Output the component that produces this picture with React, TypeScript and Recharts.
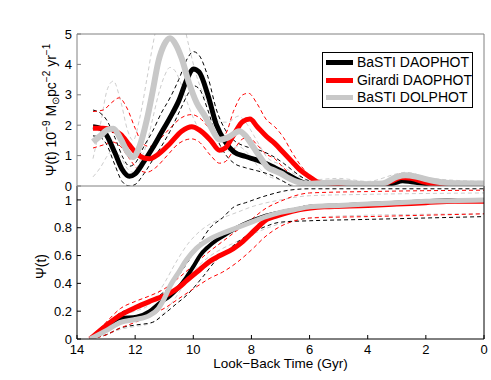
import React from 'react';
import { LineChart, Line, XAxis, YAxis, Legend } from 'recharts';

const timeTicks = [14, 12, 10, 8, 6, 4, 2, 0];
const sfrTicks = [0, 1, 2, 3, 4, 5];
const cumTicks = [0, 0.2, 0.4, 0.6, 0.8, 1];
const seriesNames = ['BaSTI DAOPHOT', 'Girardi DAOPHOT', 'BaSTI DOLPHOT'];

// star formation rate, [look-back time (Gyr), psi]
const blackSfr = [[13.45, 1.95], [13.2, 1.9], [13.0, 1.7], [12.7, 1.1], [12.45, 0.55], [12.2, 0.32], [12.0, 0.4], [11.7, 0.8], [11.4, 1.25], [11.1, 1.75], [10.8, 2.25], [10.5, 2.8], [10.2, 3.55], [10.0, 3.85], [9.8, 3.75], [9.5, 3.0], [9.2, 2.0], [8.9, 1.45], [8.6, 1.12], [8.2, 0.97], [7.8, 0.85], [7.3, 0.65], [6.9, 0.45], [6.5, 0.24], [6.2, 0.1], [5.8, 0.04], [5.0, 0.05], [4.5, 0.05], [4.0, 0.03], [3.5, 0.03], [3.1, 0.1], [2.8, 0.17], [2.5, 0.14], [2.0, 0.08], [1.5, 0.06], [0, 0.05]];
const redSfr = [[13.45, 1.9], [13.1, 1.9], [12.8, 1.85], [12.5, 1.7], [12.2, 1.35], [11.95, 1.07], [11.7, 0.92], [11.5, 0.9], [11.2, 1.05], [10.8, 1.4], [10.4, 1.8], [10.05, 1.95], [9.8, 1.85], [9.4, 1.5], [9.1, 1.18], [8.9, 1.25], [8.6, 1.7], [8.3, 2.12], [8.05, 2.2], [7.8, 1.95], [7.47, 1.62], [7.2, 1.4], [6.9, 1.1], [6.6, 0.8], [6.33, 0.53], [6.0, 0.3], [5.75, 0.14], [5.4, 0.06], [4.5, 0.05], [3.6, 0.05], [3.2, 0.15], [2.85, 0.28], [2.5, 0.25], [2.0, 0.12], [1.7, 0.07], [0, 0.07]];
const graySfr = [[13.45, 1.45], [13.2, 1.65], [12.95, 1.85], [12.75, 1.88], [12.5, 1.55], [12.25, 1.1], [12.07, 0.95], [11.85, 1.3], [11.6, 2.17], [11.4, 3.1], [11.2, 4.1], [11.0, 4.65], [10.8, 4.86], [10.6, 4.65], [10.4, 4.2], [10.15, 3.4], [9.88, 2.73], [9.6, 2.3], [9.4, 1.95], [9.08, 1.52], [8.8, 1.6], [8.42, 1.8], [8.2, 1.65], [7.94, 1.29], [7.7, 0.95], [7.47, 0.64], [7.2, 0.5], [7.0, 0.42], [6.7, 0.25], [6.44, 0.14], [6.0, 0.07], [5.0, 0.12], [4.5, 0.08], [4.0, 0.06], [3.5, 0.08], [3.0, 0.3], [2.7, 0.35], [2.3, 0.3], [1.8, 0.18], [1.2, 0.1], [0, 0.08]];

const blackSfrHi = [[13.45, 2.5], [13.2, 2.4], [13.0, 2.2], [12.7, 1.6], [12.4, 0.9], [12.2, 0.65], [12.0, 0.75], [11.7, 1.3], [11.4, 1.8], [11.1, 2.4], [10.8, 2.9], [10.5, 3.5], [10.2, 4.2], [10.0, 4.42], [9.8, 4.3], [9.5, 3.6], [9.2, 2.5], [8.9, 1.85], [8.6, 1.5], [8.2, 1.3], [7.8, 1.2], [7.3, 1.0], [6.9, 0.75], [6.5, 0.45], [6.1, 0.2], [5.7, 0.1], [4.5, 0.1], [3.5, 0.05], [2.8, 0.3], [2.2, 0.15], [1.5, 0.1], [0, 0.1]];
const blackSfrLo = [[13.45, 1.65], [13.2, 1.6], [13.0, 1.4], [12.7, 0.7], [12.45, 0.15], [12.2, 0.0], [12.0, 0.05], [11.7, 0.4], [11.4, 0.85], [11.1, 1.3], [10.8, 1.8], [10.5, 2.4], [10.2, 3.0], [10.0, 3.3], [9.8, 3.2], [9.5, 2.5], [9.2, 1.6], [8.9, 1.05], [8.6, 0.75], [8.2, 0.6], [7.8, 0.5], [7.3, 0.35], [6.9, 0.15], [6.5, -0.03], [0, -0.05]];
const redSfrHi = [[13.45, 2.45], [13.1, 2.5], [12.8, 2.75], [12.55, 2.9], [12.3, 2.6], [12.0, 1.9], [11.75, 1.4], [11.5, 1.3], [11.2, 1.5], [10.8, 1.9], [10.4, 2.25], [10.05, 2.35], [9.8, 2.25], [9.4, 1.85], [9.1, 1.6], [8.9, 1.7], [8.6, 2.5], [8.3, 3.0], [8.1, 3.05], [7.8, 2.7], [7.5, 2.2], [7.2, 1.95], [6.9, 1.6], [6.6, 1.1], [6.2, 0.55], [5.8, 0.2], [5.4, 0.1], [4.5, 0.08], [3.6, 0.08], [3.2, 0.25], [2.85, 0.4], [2.4, 0.35], [1.9, 0.15], [0, 0.1]];
const redSfrLo = [[13.45, 1.25], [13.1, 1.35], [12.8, 1.45], [12.5, 1.3], [12.2, 0.9], [11.9, 0.55], [11.6, 0.45], [11.3, 0.6], [10.9, 1.0], [10.5, 1.4], [10.05, 1.55], [9.8, 1.45], [9.4, 1.0], [9.1, 0.75], [8.9, 0.8], [8.6, 1.2], [8.3, 1.55], [8.1, 1.6], [7.8, 1.35], [7.5, 1.05], [7.2, 0.9], [6.9, 0.6], [6.6, 0.35], [6.2, 0.1], [5.8, -0.02], [0, -0.03]];
const graySfrHi = [[13.45, 0.9], [13.2, 2.0], [12.95, 3.2], [12.75, 3.45], [12.5, 2.8], [12.25, 1.8], [12.07, 1.5], [11.85, 2.2], [11.6, 3.5], [11.4, 4.6], [11.2, 5.5], [10.8, 6.2], [10.4, 5.6], [10.15, 4.6], [9.88, 3.6], [9.6, 2.9], [9.3, 2.4], [9.08, 2.1], [8.8, 2.1], [8.45, 2.3], [8.2, 2.1], [7.94, 1.7], [7.7, 1.3], [7.47, 0.95], [7.0, 0.7], [6.44, 0.35], [6.0, 0.2], [5.0, 0.25], [4.0, 0.15], [3.0, 0.4], [2.7, 0.45], [1.8, 0.25], [0, 0.15]];
const graySfrLo = [[13.45, 0.3], [13.2, 0.6], [12.95, 1.0], [12.75, 1.2], [12.5, 0.95], [12.25, 0.55], [12.07, 0.45], [11.85, 0.8], [11.6, 1.4], [11.4, 2.2], [11.2, 3.0], [11.0, 3.6], [10.8, 3.9], [10.6, 3.75], [10.4, 3.3], [10.15, 2.6], [9.88, 2.0], [9.6, 1.6], [9.3, 1.3], [9.08, 1.1], [8.8, 1.15], [8.45, 1.3], [8.2, 1.15], [7.94, 0.85], [7.7, 0.55], [7.47, 0.35], [7.0, 0.2], [6.44, 0.0], [0, -0.02]];

// cumulative star formation, [look-back time (Gyr), fraction]
const blackCum = [[13.55, 0], [13.2, 0.05], [12.9, 0.1], [12.5, 0.15], [11.95, 0.16], [11.5, 0.2], [11.15, 0.26], [10.8, 0.31], [10.55, 0.36], [10.25, 0.44], [10.0, 0.52], [9.77, 0.6], [9.5, 0.66], [9.2, 0.71], [8.9, 0.75], [8.5, 0.8], [8.1, 0.84], [7.6, 0.88], [7.0, 0.91], [6.5, 0.93], [6.0, 0.95], [5.0, 0.96], [4.0, 0.97], [3.0, 0.98], [2.0, 0.99], [1.0, 1.0], [0, 1.0]];
const redCum = [[13.55, 0], [13.1, 0.08], [12.52, 0.17], [11.95, 0.23], [11.38, 0.28], [10.8, 0.33], [10.5, 0.37], [10.23, 0.42], [9.77, 0.5], [9.42, 0.56], [9.08, 0.6], [8.62, 0.65], [8.3, 0.7], [8.05, 0.75], [7.75, 0.81], [7.47, 0.86], [7.2, 0.88], [6.9, 0.9], [6.33, 0.93], [5.5, 0.95], [4.0, 0.96], [3.0, 0.97], [2.0, 0.98], [1.0, 0.99], [0, 0.99]];
const grayCum = [[13.55, 0], [13.0, 0.06], [12.5, 0.12], [12.0, 0.14], [11.5, 0.17], [11.2, 0.22], [11.0, 0.29], [10.8, 0.38], [10.5, 0.48], [10.23, 0.57], [9.9, 0.65], [9.42, 0.72], [9.0, 0.76], [8.5, 0.8], [8.0, 0.84], [7.5, 0.88], [7.0, 0.91], [6.5, 0.93], [6.0, 0.95], [5.0, 0.96], [4.0, 0.97], [3.0, 0.98], [2.0, 0.99], [0, 1.0]];

const blackCumHi = [[13.55, 0], [13.0, 0.1], [12.5, 0.19], [12.0, 0.22], [11.5, 0.27], [11.0, 0.34], [10.6, 0.43], [10.2, 0.55], [9.8, 0.68], [9.42, 0.8], [9.0, 0.87], [8.6, 0.95], [8.2, 0.98], [7.5, 1.03], [6.7, 1.07], [6.0, 1.08], [4.0, 1.08], [0, 1.08]];
const blackCumLo = [[13.55, 0], [13.0, 0.03], [12.5, 0.08], [12.0, 0.1], [11.4, 0.12], [11.0, 0.18], [10.6, 0.25], [10.2, 0.32], [9.66, 0.45], [9.2, 0.57], [8.8, 0.64], [8.4, 0.71], [8.0, 0.76], [7.5, 0.81], [7.0, 0.84], [6.0, 0.85], [4.0, 0.86], [2.0, 0.87], [0, 0.88]];
const redCumHi = [[13.55, 0], [13.0, 0.12], [12.5, 0.22], [12.0, 0.27], [11.5, 0.31], [11.0, 0.36], [10.5, 0.44], [10.0, 0.53], [9.5, 0.62], [9.0, 0.7], [8.5, 0.78], [8.0, 0.86], [7.5, 0.94], [7.0, 0.99], [6.5, 1.03], [6.0, 1.05], [4.0, 1.06], [0, 1.07]];
const redCumLo = [[13.55, 0], [13.0, 0.03], [12.5, 0.08], [12.0, 0.12], [11.5, 0.17], [11.0, 0.22], [10.5, 0.29], [10.0, 0.36], [9.4, 0.44], [9.0, 0.48], [8.5, 0.55], [8.0, 0.64], [7.5, 0.74], [7.0, 0.81], [6.5, 0.85], [6.0, 0.87], [4.0, 0.88], [2.0, 0.89], [0, 0.9]];
const grayCumHi = [[13.55, 0], [13.0, 0.09], [12.5, 0.17], [12.0, 0.2], [11.5, 0.25], [11.0, 0.4], [10.6, 0.55], [10.2, 0.68], [9.8, 0.77], [9.4, 0.83], [9.0, 0.87], [8.5, 0.91], [8.0, 0.95], [7.0, 1.0], [6.0, 1.03], [4.0, 1.04], [0, 1.05]];
const grayCumLo = [[13.55, 0], [13.0, 0.03], [12.5, 0.07], [12.0, 0.09], [11.5, 0.11], [11.0, 0.19], [10.6, 0.3], [10.2, 0.43], [9.8, 0.53], [9.4, 0.6], [9.0, 0.65], [8.5, 0.7], [8.0, 0.75], [7.0, 0.83], [6.0, 0.87], [4.0, 0.89], [0, 0.9]];

const FONT = '"Liberation Sans", Arial, Helvetica, sans-serif';
const BLACK = '#000000';
const RED = '#ff0000';
const GRAY = '#c8c8c8';
const GRAY_DASH = '#cdcdcd';
const TOP_AXIS = '#808080';

const pts = (arr: number[][]) => arr.map(([t, v]) => ({ t, v }));

const thick = (data: number[][], color: string, width: number, key: string) => (
  <Line key={key} data={pts(data)} dataKey="v" xAxisId="b" yAxisId="l" type="monotone" stroke={color}
    strokeWidth={width} dot={false} activeDot={false} legendType="none" isAnimationActive={false} />
);
const dashed = (data: number[][], color: string, key: string) => (
  <Line key={key} data={pts(data)} dataKey="v" xAxisId="b" yAxisId="l" type="monotone" stroke={color}
    strokeWidth={1} strokeDasharray="4 3" dot={false} activeDot={false} legendType="none" isAnimationActive={false} />
);

const tickFont = { fill: '#000', fontSize: 13, fontFamily: FONT };

const SfrLabel = (props: any) => {
  const { x, y, height } = props.viewBox;
  return (
    <text transform={`translate(${x + 19},${y + height / 2}) rotate(-90)`} textAnchor="middle"
      fontFamily={FONT} fontSize={14} fill="#000">
      <tspan>Ψ(t) 10</tspan>
      <tspan dy={-6} fontSize={10}>−9</tspan>
      <tspan dy={6}> M</tspan>
      <tspan dy={3} fontSize={10}>⊙</tspan>
      <tspan dy={-3}>pc</tspan>
      <tspan dy={-6} fontSize={10}>−2</tspan>
      <tspan dy={6}> yr</tspan>
      <tspan dy={-6} fontSize={10}>−1</tspan>
    </text>
  );
};

const CumLabel = (props: any) => {
  const { x, y, height } = props.viewBox;
  return (
    <text transform={`translate(${x + 9},${y + height / 2 + 4}) rotate(-90)`} textAnchor="middle"
      fontFamily={FONT} fontSize={14} fill="#000">Ψ(t)</text>
  );
};

const TimeLabel = (props: any) => {
  const { x, y, width } = props.viewBox;
  return (
    <text x={x + width / 2} y={y + 29} textAnchor="middle" fontFamily={FONT} fontSize={13.5} fill="#000">
      Look−Back Time (Gyr)
    </text>
  );
};

const legendColors = [BLACK, RED, GRAY];
const LegendBox = () => (
  <div style={{ border: '1px solid #000', background: '#fff', width: 149, height: 53, paddingTop: 1,
    boxSizing: 'content-box', fontFamily: FONT, fontSize: 14, lineHeight: '17.5px' }}>
    {seriesNames.map((name, i) => (
      <div key={name} style={{ display: 'flex', alignItems: 'center', height: 17.5, whiteSpace: 'nowrap' }}>
        <span style={{ display: 'inline-block', width: 27, height: 5, background: legendColors[i], marginLeft: 3, marginRight: 4 }} />
        {name}
      </div>
    ))}
  </div>
);

const TopPanel = () => (
  <LineChart width={491} height={194} margin={{ top: 24, right: 6, bottom: 4, left: 37 }}>
    <XAxis xAxisId="b" type="number" dataKey="t" domain={[0, 14]} reversed allowDataOverflow ticks={timeTicks}
      tick={false} height={4} tickSize={-4} stroke={TOP_AXIS} />
    <XAxis xAxisId="t" orientation="top" type="number" dataKey="t" domain={[0, 14]} reversed allowDataOverflow
      ticks={timeTicks} tick={false} height={10} tickSize={-4} stroke={TOP_AXIS} />
    <YAxis yAxisId="l" type="number" domain={[0, 5]} allowDataOverflow ticks={sfrTicks} interval={0} width={40}
      tickSize={-4} tickMargin={9} tick={tickFont} stroke={TOP_AXIS} label={{ content: SfrLabel }} />
    <YAxis yAxisId="r" orientation="right" type="number" domain={[0, 5]} allowDataOverflow ticks={sfrTicks}
      interval={0} width={1} tickSize={-4} tick={false} stroke={TOP_AXIS} />
    <Legend layout="vertical" align="center" verticalAlign="middle" content={LegendBox}
      wrapperStyle={{ left: 322, top: 52, width: 151, height: 55 }} />
    {dashed(graySfrHi, GRAY_DASH, 'gh')}
    {dashed(graySfrLo, GRAY_DASH, 'gl')}
    {dashed(blackSfrHi, BLACK, 'bh')}
    {dashed(blackSfrLo, BLACK, 'bl')}
    {dashed(redSfrHi, RED, 'rh')}
    {dashed(redSfrLo, RED, 'rl')}
    {thick(blackSfr, BLACK, 5, 'b')}
    {thick(redSfr, RED, 5, 'r')}
    {thick(graySfr, GRAY, 6, 'g')}
  </LineChart>
);

const BottomPanel = () => (
  <LineChart width={491} height={204} margin={{ top: 0, right: 6, bottom: 0, left: 37 }}>
    <XAxis xAxisId="b" type="number" dataKey="t" domain={[0, 14]} reversed allowDataOverflow ticks={timeTicks}
      interval={0} height={41} tickSize={-4} tickMargin={10} tick={tickFont} stroke={BLACK} label={{ content: TimeLabel }} />
    <XAxis xAxisId="t" orientation="top" type="number" dataKey="t" domain={[0, 14]} reversed allowDataOverflow
      ticks={timeTicks} tick={false} height={10} tickSize={-4} axisLine={false} stroke={BLACK} />
    <YAxis yAxisId="l" type="number" domain={[0, 1.1]} allowDataOverflow ticks={cumTicks} interval={0} width={40}
      tickSize={-4} tickMargin={9} tick={tickFont} stroke={BLACK} label={{ content: CumLabel }} />
    <YAxis yAxisId="r" orientation="right" type="number" domain={[0, 1.1]} allowDataOverflow ticks={cumTicks}
      interval={0} width={1} tickSize={-4} tick={false} stroke={BLACK} />
    {dashed(grayCumHi, GRAY_DASH, 'gh')}
    {dashed(grayCumLo, GRAY_DASH, 'gl')}
    {dashed(blackCumHi, BLACK, 'bh')}
    {dashed(blackCumLo, BLACK, 'bl')}
    {dashed(redCumHi, RED, 'rh')}
    {dashed(redCumLo, RED, 'rl')}
    {thick(blackCum, BLACK, 4, 'b')}
    {thick(redCum, RED, 5, 'r')}
    {thick(grayCum, GRAY, 5, 'g')}
  </LineChart>
);

export default function App() {
  return (
    <div style={{ position: 'absolute', left: 0, top: 0, width: 491, height: 380, background: '#fff' }}>
      <div style={{ position: 'absolute', left: 0, top: 176 }}>
        <BottomPanel />
      </div>
      <div style={{ position: 'absolute', left: 0, top: 0 }}>
        <TopPanel />
      </div>
    </div>
  );
}
